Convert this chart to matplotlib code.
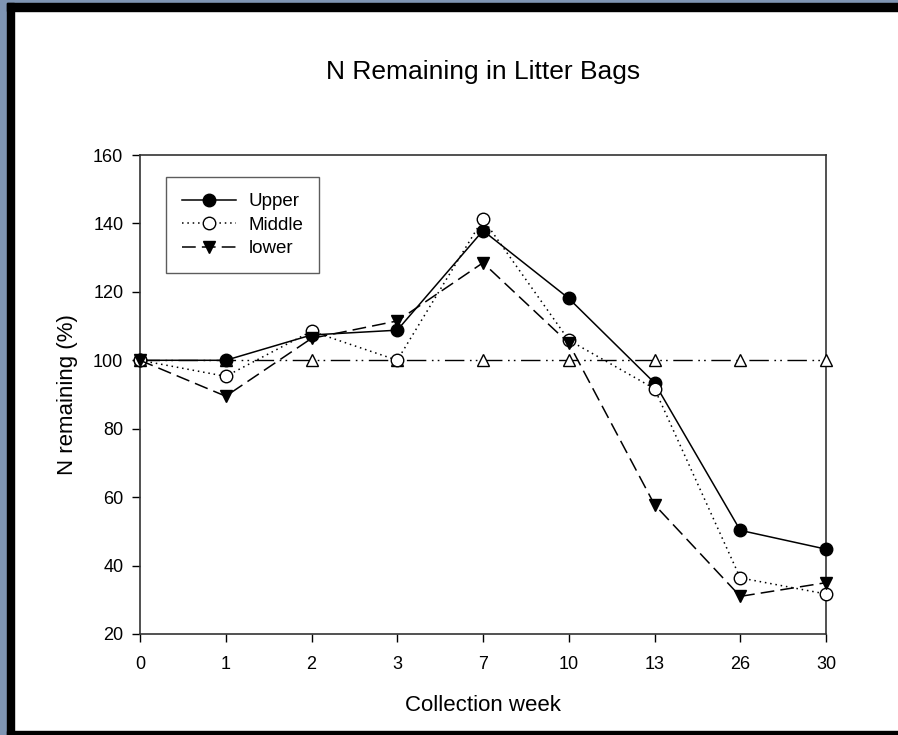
import matplotlib.pyplot as plt
from matplotlib.patches import Rectangle
import numpy as np

plt.rcParams['font.family'] = ['Liberation Sans', 'DejaVu Sans']

weeks = ['0', '1', '2', '3', '7', '10', '13', '26', '30']
upper = [100, 100, 107.4, 108.8, 137.9, 118.1, 93.4, 50.3, 44.8]
middle = [100, 95.3, 108.5, 100, 141.3, 105.9, 91.7, 36.4, 31.7]
lower = [100, 89.5, 106.4, 111.5, 128.5, 105.0, 57.8, 31.0, 35.0]
control = [100, 100, 100, 100, 100, 100, 100, 100, 100]

fig = plt.figure(figsize=(8.98, 7.35), dpi=100)

# frame around the slide
W, H = 898, 735
def px_rect(x0, y0, x1, y1, color):
    fig.patches.append(Rectangle((x0 / W, 1 - y1 / H), (x1 - x0) / W, (y1 - y0) / H,
                                 transform=fig.transFigure, color=color, zorder=0))
px_rect(0, 0, 7, H, '#7f95b3')
px_rect(0, 0, W, 3, '#7f95b3')
px_rect(7, 3, 14, H, 'black')
px_rect(7, 3, W, 11, 'black')
px_rect(7, 731, W, H, 'black')

ax = fig.add_axes([140 / W, 1 - 634 / H, (826 - 140) / W, (634 - 155) / H])
x = np.arange(len(weeks))

ax.plot(x, control, color='black', lw=1.0, dashes=[14, 4, 1.2, 3, 1.2, 4],
        marker='^', ms=9, mfc='white', mec='black', mew=1.0, clip_on=False, zorder=3)
ax.plot(x, upper, color='black', lw=1.1, ls='-', marker='o', ms=9,
        mfc='black', mec='black', clip_on=False, label='Upper', zorder=4)
ax.plot(x, middle, color='black', lw=1.1, ls=(0, (1, 2.5)), marker='o', ms=9,
        mfc='white', mec='black', mew=1.0, clip_on=False, label='Middle', zorder=4)
ax.plot(x, lower, color='black', lw=1.1, ls=(0, (9, 4)), marker='v', ms=9,
        mfc='black', mec='black', clip_on=False, label='lower', zorder=4)

ax.set_xlim(0, len(weeks) - 1)
ax.set_ylim(20, 160)
ax.set_xticks(x)
ax.set_xticklabels(weeks)
ax.set_yticks(np.arange(20, 161, 20))
ax.tick_params(direction='out', length=6, width=1.0, labelsize=13)
ax.tick_params(axis='x', pad=9.5)
ax.tick_params(axis='y', pad=6)
for s in ax.spines.values():
    s.set_linewidth(1.2)
    s.set_color('#333333')

ax.set_xlabel('Collection week', fontsize=16, labelpad=16)
ax.set_ylabel('N remaining (%)', fontsize=16, labelpad=11)
fig.text(483 / W, 1 - 72 / H, 'N Remaining in Litter Bags', fontsize=19,
         ha='center', va='center')

leg = ax.legend(loc='upper left', bbox_to_anchor=(26 / 686, 1 - 22 / 479),
                fontsize=13.5, frameon=True, fancybox=False, handlelength=2.9,
                borderpad=0.85, labelspacing=0.34, handletextpad=0.65,
                borderaxespad=0)
leg.get_frame().set_edgecolor('#333333')
leg.get_frame().set_linewidth(1.0)

fig.savefig('out.png', dpi=100)
